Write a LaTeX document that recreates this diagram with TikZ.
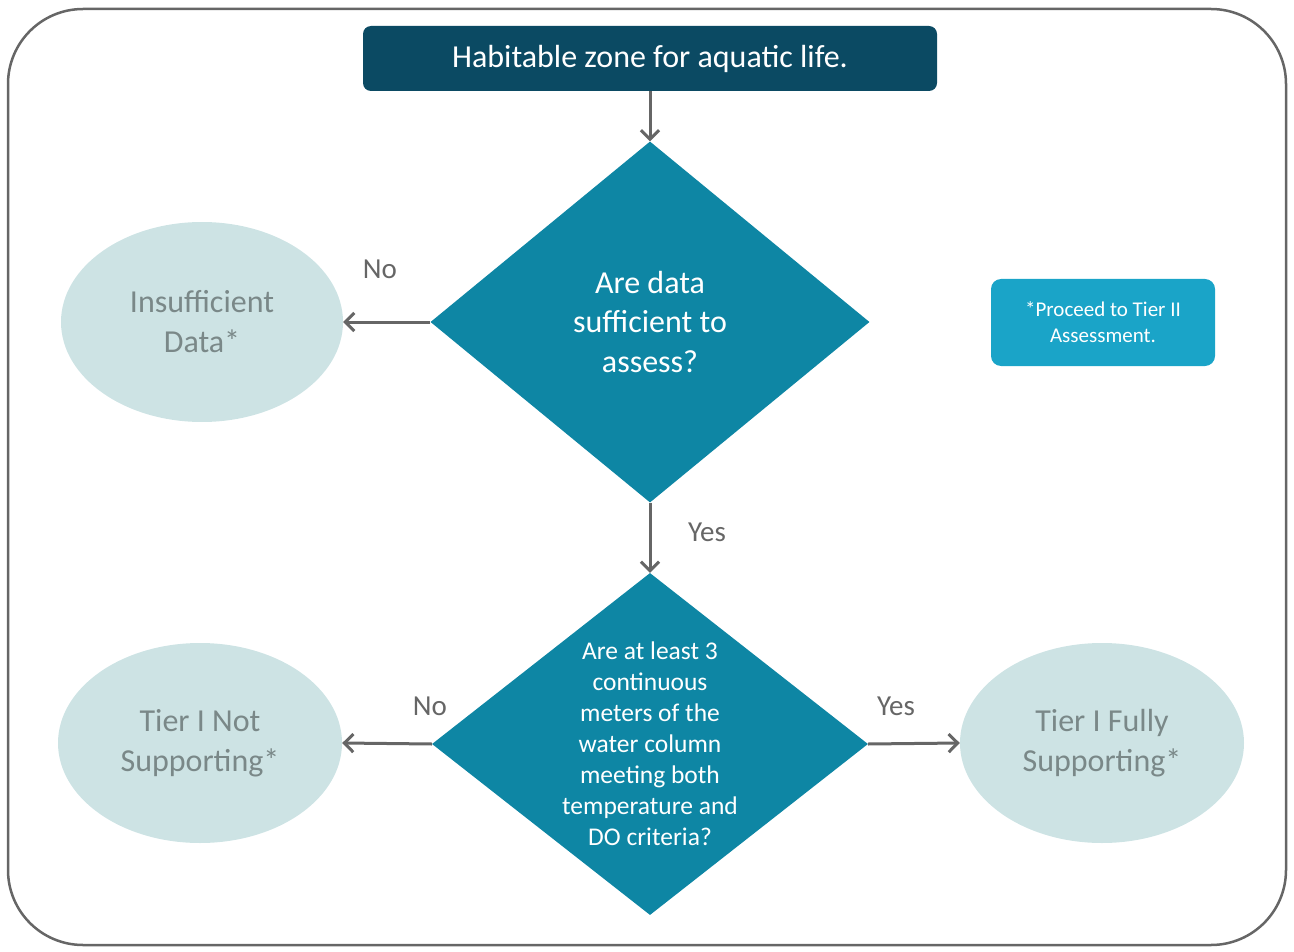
\documentclass[tikz,border=0pt]{standalone}
\usepackage{fontspec}
\setmainfont{Carlito}
\usetikzlibrary{shapes.geometric,arrows.meta}
\definecolor{darkteal}{HTML}{0B4A63}
\definecolor{midteal}{HTML}{0E86A4}
\definecolor{brightteal}{HTML}{1AA4C8}
\definecolor{paleteal}{HTML}{CDE3E4}
\definecolor{ellipsetext}{HTML}{7A8888}
\definecolor{arrowgray}{HTML}{666666}
\tikzset{
  decision/.style={diamond, fill=midteal, text=white, align=center, inner sep=0pt},
  outcome/.style={ellipse, fill=paleteal, text=ellipsetext, align=center, font=\fontsize{32}{40}\selectfont, minimum width=282pt, minimum height=200pt},
  flow/.style={draw=arrowgray, line width=3pt, -{Straight Barb[length=9pt,width=18pt,line width=3pt]}},
  lbl/.style={text=arrowgray, font=\fontsize{29}{34}\selectfont},
}
\begin{document}
\begin{tikzpicture}[x=1pt,y=-1pt]
\useasboundingbox (0,0) rectangle (1294,952);
\draw[arrowgray, line width=2.5pt, rounded corners=75pt] (8,9) rectangle (1286,945);
% top box
\node[fill=darkteal, rounded corners=8pt, minimum width=574pt, minimum height=65pt, text=white, font=\fontsize{32}{38}\selectfont] (top) at (650,58.5) {Habitable zone for aquatic life.};
% diamond 1
\node[decision, minimum width=439pt, minimum height=361pt, font=\fontsize{32}{39.5}\selectfont] (d1) at (650,322) {Are data\\sufficient to\\assess?};
% diamond 2 (text as centred label so the shape keeps its size)
\node[decision, minimum width=436pt, minimum height=342pt,
  label={[text=white, align=center, font=\fontsize{25.5}{31}\selectfont]center:{Are at least 3\\continuous\\meters of the\\water column\\meeting both\\temperature and\\DO criteria?}}] (d2) at (650,744) {};
% ellipses
\node[outcome] (insuf) at (202,322) {Insufficient\\Data*};
\node[outcome, minimum width=284pt] (notsup) at (200,743) {Tier I Not\\Supporting*};
\node[outcome, minimum width=284pt] (fullsup) at (1102,743) {Tier I Fully\\Supporting*};
% note box
\node[fill=brightteal, rounded corners=10pt, minimum width=224pt, minimum height=87pt, text=white, align=center, font=\fontsize{21}{26}\selectfont] (note) at (1103,322.5) {*Proceed to Tier II\\Assessment.};
% connectors
\draw[flow] (top.south) -- (d1.north);
\draw[flow] (d1.west) -- (insuf.east);
\draw[flow] (d1.south) -- (d2.north);
\draw[flow] (d2.west) -- (notsup.east);
\draw[flow] (d2.east) -- (fullsup.west);
% labels
\node[lbl] (lno1) at (380,269) {No};
\node[lbl] (lyes1) at (707,532) {Yes};
\node[lbl] (lno2) at (430,706) {No};
\node[lbl] (lyes2) at (896,706) {Yes};
\end{tikzpicture}
\end{document}
